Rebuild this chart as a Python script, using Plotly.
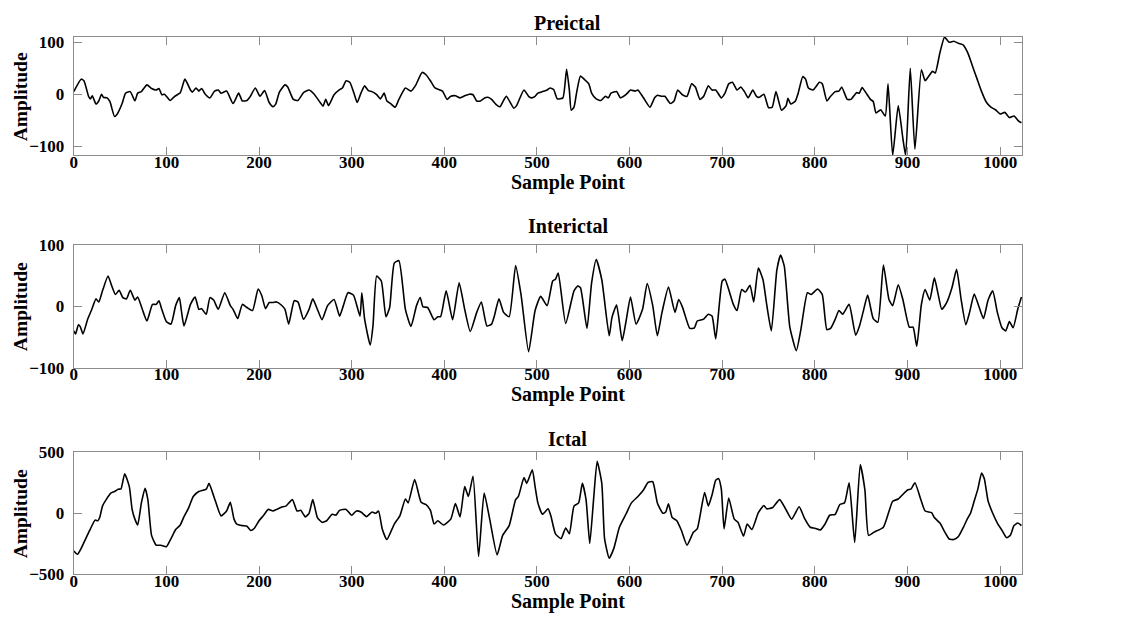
import plotly.graph_objects as go

# ---------------- data ----------------
pre_x = [0, 8, 11, 16, 18, 20, 24, 27, 30, 32, 36, 39, 44, 47, 52, 56, 61, 66, 69, 73, 79, 84, 89, 92, 95, 98,
         104, 109, 115, 120, 126, 128, 132, 135, 138, 142, 147, 152, 156, 159, 165, 172, 178, 182, 187, 190, 196,
         201, 206, 211, 215, 218, 222, 228, 231, 237, 242, 248, 254, 260, 266, 269, 272, 275, 281, 287, 290, 294,
         298, 303, 306, 310, 314, 318, 322, 327, 331, 335, 338, 342, 347, 351, 358, 364, 369, 376, 380, 385, 390,
         398, 403, 407, 412, 417, 422, 427, 431, 435, 439, 444, 447, 451, 456, 460, 464, 467, 475, 478, 486, 491,
         494, 498, 501, 506, 511, 514, 518, 522, 528, 532, 535, 537, 540, 543, 547, 551, 556, 559, 564, 569, 574,
         577, 580, 586, 590, 596, 601, 606, 609, 615, 622, 627, 630, 634, 638, 644, 648, 652, 657, 662, 667, 671,
         676, 680, 685, 689, 693, 699, 703, 707, 711, 716, 720, 724, 728, 733, 737, 740, 745, 750, 754, 758, 764,
         769, 771, 774, 779, 782, 787, 790, 793, 798, 805, 808, 813, 817, 822, 826, 829, 835, 839, 845, 848, 851,
         855, 860, 863, 866, 871, 876, 879, 884, 890, 895, 898, 903, 908, 915, 919, 923, 927, 930, 935, 940, 945,
         950, 955, 960, 965, 970, 975, 980, 985, 990, 995, 1000, 1005, 1010, 1015, 1020, 1023]
pre_y = [5, 29, 26, -4, -9, -3, -19, -13, 0, -6, -7, -14, -43, -38, -19, 2, 5, -13, 2, 5, 18, 11, 8, 11, -1, 0,
         -12, -4, 3, 29, 8, 4, 12, 6, 11, 0, -7, 6, 8, 2, 6, -18, 2, -13, -12, -6, 12,
         -4, 7, -16, -24, -19, 4, 18, 14, -10, -12, 3, 8, -1, -16, -23, -10, -22, -1, 9, 12, 26,
         23, -1, -16, 2, 16, 7, 5, -1, -9, 2, -13, -18, -25, -10, 12, 6, 17, 42, 38, 26, 12,
         6, -10, -4, -3, -7, -3, 0, -1, -13, -13, -7, -6, -10, -20, -24, -12, -4, -27, -22, 8, -4,
         -7, -4, 2, 5, 8, 12, 9, -9, -7, 48, 8, -31, -25, 5, 35, 29, 20, 2, -9, -12, -4,
         -7, 2, 5, -7, -1, 8, 6, 8, -7, -25, -7, -2, -4, -4, -18, -13, 8, -1, -4, 20, 14,
         -10, -4, 16, 8, 8, -7, 2, 20, 23, 8, 14, 5, -7, 8, -4, -6, 0, -26, -25, 5, -31,
         -22, -8, -19, -13, 2, 34, 29, 12, 8, 23, 20, -13, -4, 5, 6, 14, -10, -10, 3, 2, 13,
         3, -10, -14, -36, -30, -42, 20, -118, -22, -85, -118, 50, -106, 47, 26, 35, 44, 41, 80, 110, 100,
         102, 98, 95, 80, 55, 30, 5, -15, -25, -30, -38, -35, -45, -42, -52, -55]

inter_x = [0, 2, 5, 7, 10, 15, 19, 24, 27, 31, 37, 41, 45, 49, 53, 57, 61, 66, 69, 74, 79, 85, 89, 92, 95, 100,
           105, 110, 114, 116, 119, 126, 131, 135, 138, 143, 147, 151, 156, 163, 169, 172, 177, 182, 187, 193,
           199, 203, 207, 211, 215, 219, 224, 228, 232, 238, 242, 248, 254, 258, 263, 268, 274, 281, 287, 291,
           296, 302, 309, 311, 314, 320, 323, 327, 332, 337, 341, 346, 351, 358, 364, 370, 374, 377, 382, 389,
           393, 396, 402, 409, 416, 422, 428, 435, 440, 446, 451, 454, 459, 464, 470, 477, 483, 491, 498, 504,
           511, 517, 520, 523, 531, 540, 544, 547, 554, 559, 564, 570, 578, 581, 586, 592, 596, 601, 607, 614,
           619, 625, 630, 635, 642, 649, 653, 657, 665, 670, 673, 680, 685, 689, 693, 700, 703, 707, 712, 716,
           721, 725, 730, 734, 739, 744, 748, 753, 759, 763, 767, 773, 780, 785, 792, 796, 803, 808, 813, 817,
           822, 826, 830, 837, 844, 848, 852, 857, 863, 868, 874, 880, 884, 890, 895, 902, 906, 910, 915, 919,
           924, 929, 933, 937, 942, 948, 953, 958, 963, 967, 972, 977, 982, 987, 992, 997, 1002, 1006, 1010,
           1014, 1019, 1023]
inter_y = [-40, -45, -30, -33, -45, -21, -7, 12, 7, 25, 49, 33, 19, 26, 14, 12, 26, 10, 15, -5, -24, 3, 3, 9, -5, -25,
           -29, 1, 14, -5, -32, 3, 15, -5, -4, -13, 14, 10, -5, 22, 1, -5, -20, 3, -2, -7,
           28, 17, -4, 6, 6, 7, 2, -5, -29, 9, 7, -21, -5, 12, -5, -22, 1, 11, -16, 1,
           22, 18, -16, 22, -21, -63, -32, 49, 41, -17, -2, 70, 74, -5, -33, 1, 14, -1, -2, -22,
           -17, -17, 25, -22, 38, -5, -41, -10, 7, -32, -29, -16, 12, -10, -17, 66, 17, -74, -7, 16,
           1, 41, 44, 54, -28, 25, 33, 30, -36, 38, 76, 43, -48, -18, 2, -56, -26, 15, -29, -5,
           37, 1, -48, -10, 31, -10, 11, -1, -36, -35, -24, -21, -13, -16, -53, 41, 44, 27, 3, -7,
           27, 23, 34, 7, 62, 43, 3, -40, 59, 83, 65, -34, -72, -37, 22, 19, 28, 19, -38, -36,
           -21, -7, -13, 3, -47, -33, -10, 18, -20, -26, 67, 11, 1, 35, 11, -34, -34, -65, 3, 27,
           10, 46, 20, -5, 5, 30, 60, 10, -30, -10, 20, 0, -20, 10, 25, -10, -35, -40, -25,
           -35, -5, 15]

ictal_x = [0, 4, 8, 13, 18, 23, 26, 28, 31, 35, 40, 44, 48, 51, 55, 60, 63, 66, 69, 73, 77, 80, 84, 89, 94, 100,
           105, 110, 115, 119, 124, 129, 135, 143, 146, 150, 153, 159, 165, 169, 173, 176, 182, 187, 191, 195,
           200, 205, 210, 215, 219, 224, 229, 236, 241, 245, 250, 254, 258, 263, 268, 273, 279, 283, 287, 294,
           300, 305, 310, 316, 322, 326, 329, 333, 338, 346, 352, 358, 361, 368, 375, 380, 385, 389, 393, 399,
           407, 412, 417, 422, 426, 431, 437, 443, 449, 457, 463, 470, 477, 480, 486, 489, 495, 498, 501, 506,
           512, 515, 520, 526, 531, 535, 540, 545, 549, 553, 557, 561, 565, 570, 573, 578, 583, 589, 596, 602,
           609, 615, 620, 625, 630, 636, 639, 642, 646, 651, 656, 662, 669, 673, 681, 685, 689, 693, 696, 699,
           702, 707, 713, 717, 723, 727, 732, 739, 745, 748, 754, 762, 769, 775, 783, 789, 795, 800, 806, 811,
           816, 822, 827, 832, 837, 843, 849, 854, 858, 864, 874, 884, 890, 900, 904, 908, 915, 919, 926, 929,
           935, 940, 945, 950, 955, 960, 965, 968, 972, 976, 980, 983, 987, 992, 997, 1002, 1007, 1011, 1015,
           1019, 1023]
ictal_y = [-308, -335, -287, -207, -128, -56, -61, -35, 59, 112, 165, 178, 197, 200, 324, 218, 32, -48, -96, 85, 205,
           112, -181, -261, -261, -274,
           -207, -133, -96, -27, 45, 138, 178, 197, 245, 165, 98, -21, 19, 90, -48, -88, -101, -106, -141, -122,
           -61, -16, 32, 19, 32, 50, 59, 112, 19, 24, -29, 0, 112, -35, -74, -61, -8, -15, 24, 32,
           -16, 19, 10, -27, 11, 0, 19, -128, -215, -88, -21, 117, 85, 277, 90, 72, 24, -88, -61, -96,
           -48, 80, -29, 218, 138, 303, -354, 165, -48, -340, -181, -101, 112, 138, 293, 245, 356, 218, 85, -8,
           37, -21, -168, -207, -120, -168, 59, 85, 245, 112, -247, 100, 426, 245, -207, -367, -287, -114, -8, 85,
           138, 191, 253, 258, 85, 0, 10, 77, -35, -61, -141, -261, -154, -128, 170, 59, 150, 271, 285, 200,
           -128, 125, -48, -74, -186, -88, -133, 5, 64, 37, 45, 112, 27, -48, 53, -43, -114, -122, -136, -88,
           -16, -8, 72, 85, 250, -239, 399, 191, -181, -154, -114, 98, 117, 191, 200, 250, 98, 19, 5, -35,
           -80, -150, -210, -215, -190, -120, -40, 0, 100, 200, 330, 280, 100, 0, -80, -140, -200, -180, -100,
           -80, -100]

titles = ["Preictal", "Interictal", "Ictal"]
y_ranges = [[-118, 110], [-100, 100], [-500, 500]]
y_ticks = [[-100, 0, 100], [-100, 0, 100], [-500, 0, 500]]
x_ticks = list(range(0, 1001, 100))

# ---------------- layout geometry ----------------
W, H = 1125, 629
FONT = "Liberation Serif"
x_dom = [70 / W, 1022 / W]
y_doms = [[1 - 151 / H, 1 - 29 / H], [1 - 370 / H, 1 - 243 / H], [1 - 583 / H, 1 - 457 / H]]
title_y = [14, 224, 443]
xlabel_y = [179, 398, 611]
label_cx = 566 / W

fig = go.Figure()
series = [(pre_x, pre_y), (inter_x, inter_y), (ictal_x, ictal_y)]
for i, (xs, ys) in enumerate(series):
    sfx = "" if i == 0 else str(i + 1)
    fig.add_trace(go.Scatter(x=xs, y=ys, mode="lines", xaxis="x" + sfx, yaxis="y" + sfx,
                             line=dict(color="black", width=1.6, shape="spline", smoothing=0.5),
                             showlegend=False, hoverinfo="skip"))

layout = dict(width=W, height=H, margin=dict(l=0, r=0, t=0, b=0), paper_bgcolor="white",
              plot_bgcolor="white", font=dict(family=FONT, color="black", size=17, weight="bold"),
              annotations=[])
axis_common = dict(showline=True, linecolor="#8c8c8c", linewidth=1, mirror="allticks", ticks="inside",
                   ticklen=8, tickcolor="#8c8c8c", showgrid=False, zeroline=False,
                   tickfont=dict(family=FONT, size=17, color="black", weight="bold"))
for i in range(3):
    sfx = "" if i == 0 else str(i + 1)
    layout["xaxis" + sfx] = dict(axis_common, domain=x_dom, range=[0, 1024], tickvals=x_ticks,
                                 anchor="y" + sfx, ticklabelstandoff=-9)
    layout["yaxis" + sfx] = dict(axis_common, domain=y_doms[i], range=y_ranges[i], tickvals=y_ticks[i],
                                 anchor="x" + sfx, ticklabelstandoff=5)
    layout["annotations"].append(dict(text=titles[i], x=label_cx, y=1 - title_y[i] / H, xref="paper",
                                      yref="paper", showarrow=False, xanchor="center", yanchor="middle",
                                      font=dict(family=FONT, size=20, weight="bold")))
    layout["annotations"].append(dict(text="Sample Point", x=label_cx, y=1 - xlabel_y[i] / H, xref="paper",
                                      yref="paper", showarrow=False, xanchor="center", yanchor="middle",
                                      font=dict(family=FONT, size=20, weight="bold")))
    layout["annotations"].append(dict(text="Amplitude", x=16 / W, y=sum(y_doms[i]) / 2, xref="paper",
                                      yref="paper", showarrow=False, xanchor="center", yanchor="middle",
                                      textangle=-90, font=dict(family=FONT, size=19.5, weight="bold")))
fig.update_layout(**layout)
fig.write_html("out.html")
